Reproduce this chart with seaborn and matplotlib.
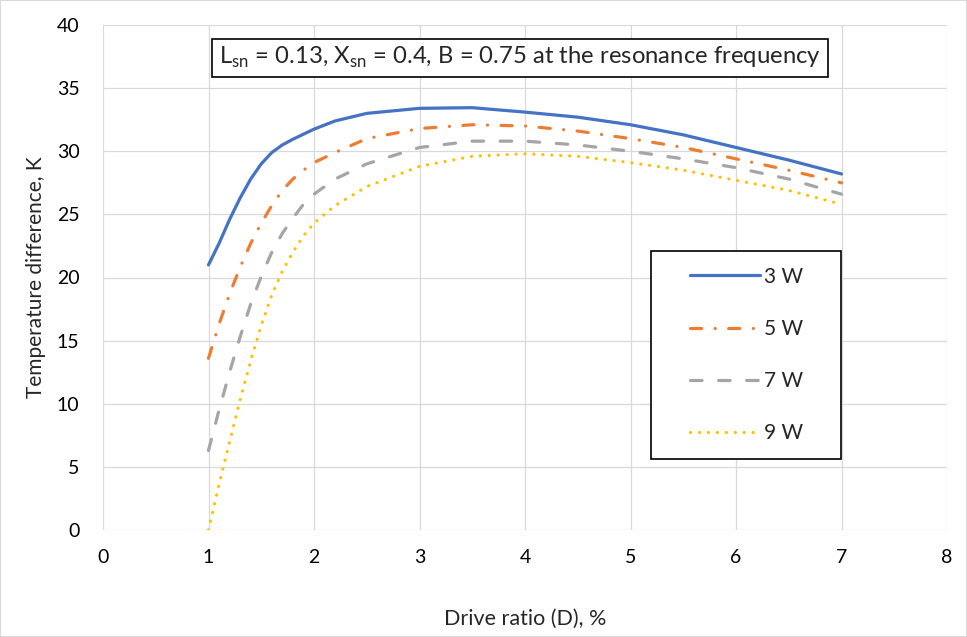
import numpy as np
import seaborn as sns
import matplotlib.pyplot as plt
import pandas as pd
from matplotlib.patches import Rectangle

sns.set_style('white')
plt.rcParams['font.family'] = ['Lato', 'DejaVu Sans']

# 数据
drive_ratio = [1, 1.1, 1.2, 1.3, 1.4, 1.5, 1.6, 1.7, 1.8, 1.9, 2, 2.2, 2.5,
               3, 3.5, 4, 4.5, 5, 5.5, 6, 6.5, 7]
dt_3w = [21.0, 22.7, 24.6, 26.3, 27.8, 29.0, 29.9, 30.5, 30.95, 31.35, 31.75, 32.4, 33.0,
         33.4, 33.45, 33.1, 32.7, 32.1, 31.3, 30.3, 29.3, 28.2]
dt_5w = [13.6, 16.3, 18.7, 20.8, 22.7, 24.3, 25.7, 26.9, 27.8, 28.5, 29.1, 29.9, 31.0,
         31.8, 32.1, 32.0, 31.6, 31.0, 30.3, 29.4, 28.5, 27.5]
dt_7w = [6.3, 9.5, 12.5, 15.3, 17.9, 20.1, 22.0, 23.5, 24.7, 25.8, 26.6, 27.8, 29.0,
         30.3, 30.8, 30.8, 30.5, 30.0, 29.4, 28.7, 27.8, 26.6]
dt_9w = [0.0, 3.6, 7.0, 10.3, 13.4, 16.2, 18.6, 20.5, 22.0, 23.3, 24.3, 25.7, 27.2,
         28.8, 29.6, 29.8, 29.6, 29.1, 28.5, 27.7, 26.9, 25.8]

series = {'3 W': dt_3w, '5 W': dt_5w, '7 W': dt_7w, '9 W': dt_9w}
colors = {'3 W': '#4472C4', '5 W': '#ED7D31', '7 W': '#A5A5A5', '9 W': '#FFC000'}
styles = {'3 W': '-',
          '5 W': (0, (3.5, 4.2, 0.05, 4.2)),
          '7 W': (0, (3.6, 5.2)),
          '9 W': (0, (0.05, 2.75))}

fig = plt.figure(figsize=(9.67, 6.37), dpi=100)
ax = fig.add_axes([103 / 967, 1 - 530 / 637, 844 / 967, 505 / 637])

for name, vals in series.items():
    df = pd.DataFrame({'D': drive_ratio, 'dT': vals})
    sns.lineplot(data=df, x='D', y='dT', ax=ax, color=colors[name],
                 linestyle=styles[name], linewidth=2.3, label=name,
                 dash_capstyle='round', solid_capstyle='round',
                 solid_joinstyle='round')

ax.set_xlim(0, 8)
ax.set_ylim(0, 40)
ax.set_xticks(range(0, 9))
ax.set_yticks(range(0, 41, 5))
ax.grid(True, color='#D9D9D9', linewidth=0.9)
ax.set_axisbelow(True)
for s in ax.spines.values():
    s.set_visible(False)
ax.tick_params(axis='both', length=0, labelsize=14, colors='black')
ax.tick_params(axis='x', pad=14)
ax.tick_params(axis='y', pad=17)

ax.set_xlabel('Drive ratio (D), %', fontsize=15.5)
ax.set_ylabel('Temperature difference, K', fontsize=15)
ax.xaxis.set_label_coords(0.5, -0.156)
ax.yaxis.set_label_coords(-0.067, 0.5)

ax.text(0.494, 0.935,
        r'L$_{\mathregular{sn}}$ = 0.13, X$_{\mathregular{sn}}$ = 0.4, B = 0.75 at the resonance frequency',
        transform=ax.transAxes, ha='center', va='center', fontsize=17.2,
        bbox=dict(boxstyle='square,pad=0.28', facecolor='white',
                  edgecolor='black', linewidth=1.2))

# 图例框
ax.add_patch(Rectangle((0.649, 0.141), 0.225, 0.412, transform=ax.transAxes,
                       facecolor='white', edgecolor='black', linewidth=1.2,
                       zorder=4))
leg = ax.legend(loc='center', bbox_to_anchor=(0.762, 0.3465),
                fontsize=15, frameon=False, handlelength=3.4,
                handletextpad=0.15, labelspacing=1.55, borderaxespad=0)
leg.set_zorder(5)

fig.patches.append(Rectangle((0, 0), 1, 1, transform=fig.transFigure,
                             fill=False, edgecolor='#D9D9D9', linewidth=1.5))

fig.savefig('out.png', dpi=100)
